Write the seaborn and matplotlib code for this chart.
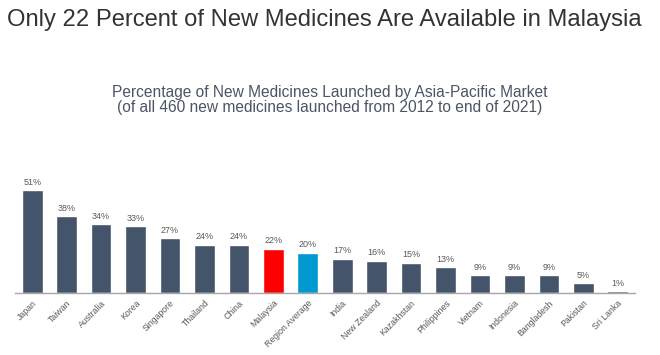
import matplotlib
matplotlib.use("Agg")
import matplotlib.pyplot as plt
import seaborn as sns
import pandas as pd

markets = ["Japan", "Taiwan", "Australia", "Korea", "Singapore", "Thailand", "China",
           "Malaysia", "Region Average", "India", "New Zealand", "Kazakhstan",
           "Philippines", "Vietnam", "Indonesia", "Bangladesh", "Pakistan", "Sri Lanka"]
values = [51, 38, 34, 33, 27, 24, 24, 22, 20, 17, 16, 15, 13, 9, 9, 9, 5, 1]

base = "#44546A"
colors = [base] * len(markets)
colors[markets.index("Malaysia")] = "#FF0000"
colors[markets.index("Region Average")] = "#0099D0"

sns.set_theme(style="white")
plt.rcParams['font.family'] = ['Liberation Sans', 'DejaVu Sans']

df = pd.DataFrame({"market": markets, "value": values})

fig = plt.figure(figsize=(6.6, 3.55), dpi=100)
ax = fig.add_axes([15/660, 1 - 293/355, 620/660, 133/355])
sns.barplot(data=df, x="market", y="value", hue="market", palette=colors,
            legend=False, width=0.6, ax=ax, saturation=1)
ax.set_xlim(-0.5, len(markets) - 0.5)
ax.set_ylim(0, 133/2.02)
for i, v in enumerate(values):
    ax.text(i, v + 1.6, f"{v}%", ha="center", va="bottom", fontsize=6.5, color="#595959")
ax.set_xlabel("")
ax.set_ylabel("")
ax.set_yticks([])
ax.tick_params(axis="x", length=0, pad=4)
ax.set_xticks(range(len(markets)))
ax.set_xticklabels(markets, rotation=45, ha="right", rotation_mode="anchor",
                   fontsize=6.3, color="#595959")
for s in ["top", "right", "left"]:
    ax.spines[s].set_visible(False)
ax.spines["bottom"].set_color("#A6A6A6")
ax.spines["bottom"].set_linewidth(1)

fig.text(324/660, 1 - 20/355, "Only 22 Percent of New Medicines Are Available in Malaysia",
         ha="center", va="center", fontsize=17.1, color="#333333")
fig.text(0.5, 1 - 92/355, "Percentage of New Medicines Launched by Asia-Pacific Market",
         ha="center", va="center", fontsize=11.2, color="#4A5566")
fig.text(0.5, 1 - 107/355, "(of all 460 new medicines launched from 2012 to end of 2021)",
         ha="center", va="center", fontsize=11.2, color="#4A5566")

fig.savefig("out.png", dpi=100)
